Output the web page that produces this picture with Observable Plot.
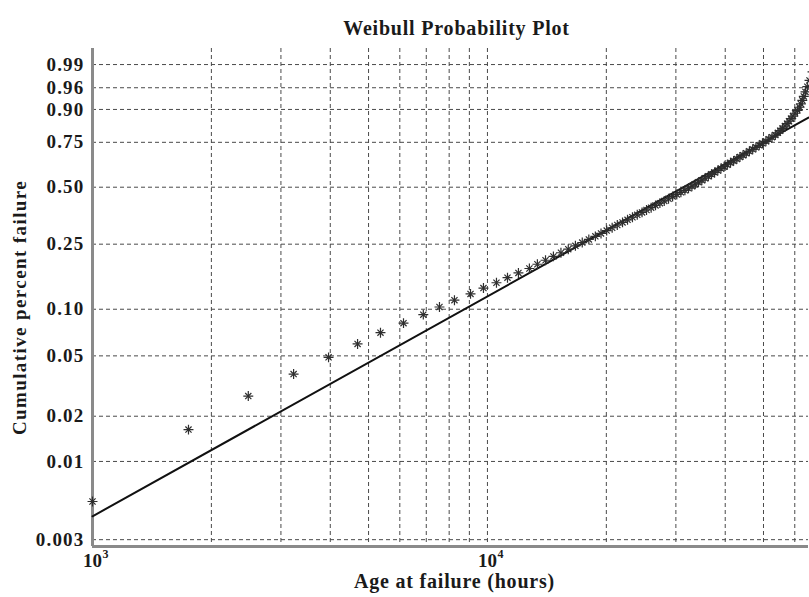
<!DOCTYPE html>
<html><head><meta charset="utf-8">
<script src="https://cdn.jsdelivr.net/npm/d3@7"></script>
<script src="https://cdn.jsdelivr.net/npm/@observablehq/plot@0.6"></script>
<style>
html,body{margin:0;padding:0;background:#fff;overflow:hidden;}
#chart svg{display:block;overflow:hidden;}
</style>
</head><body><div id="chart"></div>
<script>
// Failure ages (hours)
const ages = [1000,1750,2480,3230,3960,4690,5360,6130,6880,7560,
  8250,9060,9770,10540,11240,11980,12770,13380,14030,14690,
  15350,16020,16700,17380,18060,18760,19390,20040,20690,21320,
  21980,22630,23290,23950,24630,25280,25970,26640,27330,28030,
  28740,29430,30160,30890,31620,32290,32940,33580,34230,34900,
  35560,36250,36930,37600,38310,39010,39740,40490,41250,42010,
  42800,43580,44370,45210,46060,46950,47840,48770,49710,50710,
  51570,52540,53570,54380,55120,55860,56650,57380,58020,58700,
  59390,60120,60930,61710,62180,62690,63240,63870,64550,65380,
  66540,68860];
// Cumulative failure fraction of each point
const cumFailure = [0.0054,0.0163,0.0272,0.0380,0.0489,0.0598,0.0707,0.0815,0.0924,0.1033,
  0.1141,0.1250,0.1359,0.1467,0.1576,0.1685,0.1793,0.1902,0.2011,0.2120,
  0.2228,0.2337,0.2446,0.2554,0.2663,0.2772,0.2880,0.2989,0.3098,0.3207,
  0.3315,0.3424,0.3533,0.3641,0.3750,0.3859,0.3967,0.4076,0.4185,0.4293,
  0.4402,0.4511,0.4620,0.4728,0.4837,0.4946,0.5054,0.5163,0.5272,0.5380,
  0.5489,0.5598,0.5707,0.5815,0.5924,0.6033,0.6141,0.6250,0.6359,0.6467,
  0.6576,0.6685,0.6793,0.6902,0.7011,0.7120,0.7228,0.7337,0.7446,0.7554,
  0.7663,0.7772,0.7880,0.7989,0.8098,0.8207,0.8315,0.8424,0.8533,0.8641,
  0.8750,0.8859,0.8967,0.9076,0.9185,0.9293,0.9402,0.9511,0.9620,0.9728,
  0.9837,0.9946];
// Fitted Weibull line (end points)
const fitAges = [1000, 65000];
const fitFailure = [0.0043, 0.8688];

const yTickValues = [0.003,0.01,0.02,0.05,0.10,0.25,0.50,0.75,0.90,0.96,0.99];
const yTickLabels = ["0.003","0.01","0.02","0.05","0.10","0.25","0.50","0.75","0.90","0.96","0.99"];
const xGridValues = [1000,2000,3000,4000,5000,6000,7000,8000,9000,10000,20000,30000,40000,50000,60000];
const xTickValues = [1000, 10000];
const xTickExponents = ["3","4"];
const xDomain = [1000, 65000];
const yDomainFailure = [0.00270, 0.99726];

const title = "Weibull Probability Plot";
const xTitle = "Age at failure (hours)";
const yTitle = "Cumulative percent failure";

const wb = p => Math.log(-Math.log(1 - p));
const points = ages.map((a, i) => ({age: a, F: cumFailure[i]}));
const fit = fitAges.map((a, i) => ({age: a, F: fitFailure[i]}));

const font = "'Liberation Serif', 'Times New Roman', serif";
const ink = "#1a1a1a";
const gridColor = "#4a4a4a";

const chart = Plot.plot({
  width: 809,
  height: 597,
  marginLeft: 92,
  marginRight: 1,
  marginTop: 48,
  marginBottom: 51,
  style: {fontFamily: font, background: "#fff"},
  x: {type: "log", domain: xDomain, axis: null},
  y: {type: "linear", domain: yDomainFailure.map(wb), axis: null},
  marks: [
    Plot.ruleX(xGridValues, {x: d => d, stroke: gridColor, strokeWidth: 1, strokeDasharray: "4,3"}),
    Plot.ruleY(yTickValues, {y: d => wb(d), stroke: gridColor, strokeWidth: 1, strokeDasharray: "4,3"}),
    // axes
    Plot.ruleX([xDomain[0]], {x: d => d, stroke: "#8a8a8a", strokeWidth: 3}),
    Plot.ruleY([yDomainFailure[0]], {y: d => wb(d), stroke: "#8a8a8a", strokeWidth: 3}),
    // fitted line
    Plot.line(fit, {x: "age", y: d => wb(d.F), stroke: "#111", strokeWidth: 2}),
    // points as 8-armed stars
    Plot.dot(points, {x: "age", y: d => wb(d.F), symbol: "plus", r: 3.3, stroke: "#2e2e2e", fill: "none", strokeWidth: 1.2}),
    Plot.dot(points, {x: "age", y: d => wb(d.F), symbol: "times", r: 2.9, stroke: "#2e2e2e", fill: "none", strokeWidth: 1.2}),
    // [text 0] y tick labels
    Plot.text(yTickValues, {frameAnchor: "left", y: d => wb(d), text: (d, i) => yTickLabels[i], textAnchor: "end", dx: -8, fontSize: 19, fontWeight: "bold", fill: ink}),
    // [text 1,2] x tick labels 10^n
    Plot.text(xTickValues, {x: d => d, frameAnchor: "bottom", text: () => "10", dy: 20, fontSize: 19, fontWeight: "bold", fill: ink}),
    Plot.text(xTickValues, {x: d => d, frameAnchor: "bottom", text: (d, i) => xTickExponents[i], textAnchor: "start", dx: 10, dy: 11, fontSize: 12, fontWeight: "bold", fill: ink}),
    // [text 3,4,5] titles
    Plot.text([xTitle], {frameAnchor: "bottom", text: d => d, dx: 4, dy: 41, fontSize: 20, fontWeight: "bold", fill: ink}),
    Plot.text([yTitle], {frameAnchor: "left", text: d => d, textAnchor: "middle", rotate: -90, dx: -73, dy: 10, fontSize: 19, fontWeight: "bold", fill: ink}),
    Plot.text([title], {frameAnchor: "top", text: d => d, dx: 6, dy: -28, fontSize: 20, fontWeight: "bold", fill: ink})
  ]
});
const textGroups = d3.select(chart).selectAll('g[aria-label="text"]').nodes();
const spacing = [1.2, 0, 0, 0.8, 1.4, 0.8];
textGroups.forEach((g, i) => { if (spacing[i]) g.setAttribute("letter-spacing", spacing[i]); });
document.getElementById("chart").appendChild(chart);
</script>
</body></html>
